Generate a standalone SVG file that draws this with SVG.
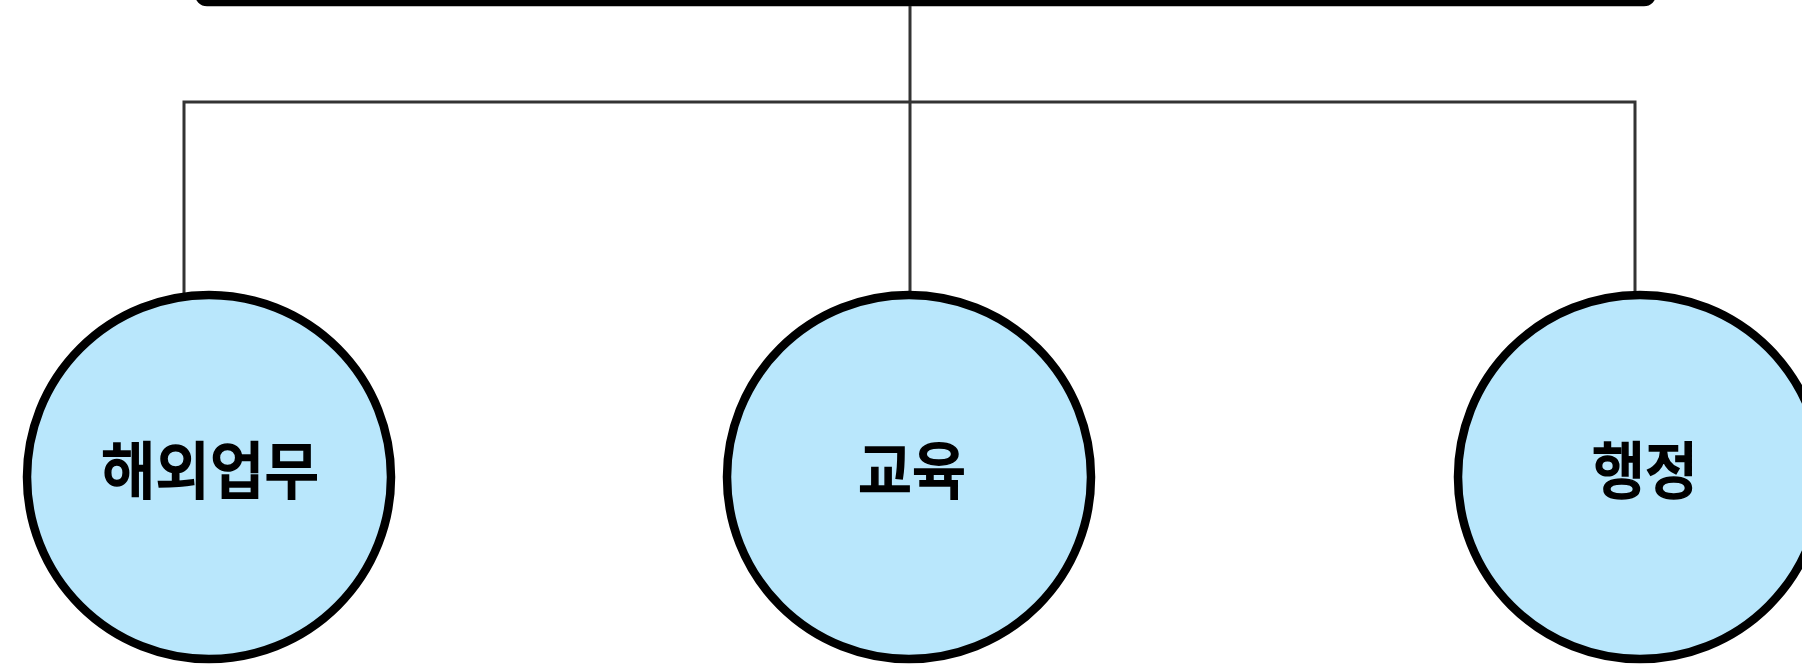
<svg xmlns="http://www.w3.org/2000/svg" width="1802" height="667" viewBox="0 0 1802 667">
<style>
.conn{fill:none;stroke:#333;stroke-width:3}
.node{fill:#B9E7FC;stroke:#000;stroke-width:8.5}
.lbl{font-family:"Noto Sans CJK KR","Noto Sans",sans-serif;font-weight:500;font-size:62px;fill:#000;stroke:#000;stroke-width:1.6;text-anchor:middle}
</style>
<rect width="1802" height="667" fill="#fff"/>
<g id="top">
<rect x="198" y="-60" width="1455" height="63" rx="9" fill="#fff" stroke="#000" stroke-width="6.5"/>
</g>
<g id="connectors">
<line class="conn" x1="910" y1="6" x2="910" y2="300"/>
<polyline class="conn" points="184,300 184,102 1635,102 1635,300"/>
</g>
<g id="n1">
<circle class="node" cx="209" cy="477" r="182"/>
<text class="lbl" x="210" y="494" textLength="218" lengthAdjust="spacingAndGlyphs">해외업무</text>
</g>
<g id="n2">
<circle class="node" cx="909" cy="477" r="182"/>
<text class="lbl" x="912" y="494" textLength="108" lengthAdjust="spacingAndGlyphs">교육</text>
</g>
<g id="n3">
<circle class="node" cx="1640" cy="477" r="182"/>
<text class="lbl" x="1645" y="494" textLength="106" lengthAdjust="spacingAndGlyphs">행정</text>
</g>
</svg>
